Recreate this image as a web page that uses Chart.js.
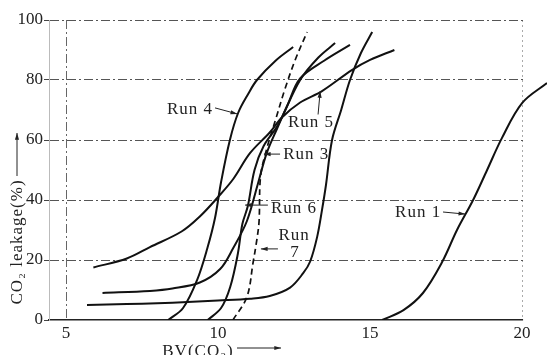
<!DOCTYPE html>
<html>
<head>
<meta charset="utf-8">
<script src="https://cdn.jsdelivr.net/npm/chart.js@4"></script>
<style>
  html, body { margin: 0; padding: 0; background: #fff; }
</style>
</head>
<body>
<canvas id="chart" width="547" height="355"></canvas>
<script>
// DATA
const xTicks = [5, 10, 15, 20];
const yTicks = [0, 20, 40, 60, 80, 100];

const run1X = [15.4, 16.1, 16.74, 17.37, 17.86, 18.39, 18.85, 19.34, 20, 20.82];
const run1Y = [0, 3.3, 9, 19.3, 30, 40, 50, 60.7, 72.3, 79];

const run2X = [5.69, 7, 8, 9, 10, 11.05, 11.7, 12.37, 12.8, 13.03, 13.26, 13.42, 13.55, 13.75, 14.05, 14.34, 14.7, 15.07];
const run2Y = [5, 5.3, 5.6, 6, 6.5, 7.1, 8, 10.8, 15.6, 19.5, 27.7, 36.7, 45, 60, 70, 80, 89, 96];

const run3X = [6.2, 7.76, 8.5, 9.4, 10.07, 10.5, 10.95, 11.3, 11.6, 11.95, 12.3, 12.7, 13.5, 14.34];
const run3Y = [9, 9.7, 10.5, 12.5, 17, 24, 33, 45, 55.6, 64, 72, 80.5, 86.5, 91.7];

const run4X = [8.36, 8.85, 9.31, 9.65, 9.9, 10.1, 10.39, 10.66, 11.0, 11.28, 11.9, 12.47];
const run4Y = [0, 4, 13.3, 24, 34, 46, 60, 69, 75.5, 80, 86.5, 91];

const run5X = [5.9, 7, 7.76, 8.8, 9.4, 10, 10.5, 11.05, 11.7, 12.1, 12.7, 13.42, 14.4, 15, 15.8];
const run5Y = [17.5, 20.5, 24.3, 29.5, 34.5, 41, 47, 55.6, 62.5, 67.5, 72.5, 76.3, 83.3, 86.7, 90];

const run6X = [9.66, 10.1, 10.4, 10.65, 10.8, 10.98, 11.2, 11.5, 11.97, 12.7, 13.3, 13.85];
const run6Y = [0, 4, 11, 22, 32, 38, 50, 58, 65, 80, 87.5, 92.3];

const run7X = [10.49, 10.95, 11.15, 11.28, 11.35, 11.4, 11.6, 11.9, 12.2, 12.55, 12.93];
const run7Y = [0, 7.7, 19, 27, 33, 48, 57, 67, 77, 87, 96];

const SERIF = "'Liberation Serif', 'DejaVu Serif', serif";
const FRAME_RIGHT = 20;   // frame stops at 20, Run 1 runs on past it

function pts(xs, ys) {
  return xs.map((x, i) => ({ x: x, y: ys[i] }));
}

function curve(xs, ys, dashed) {
  return {
    data: pts(xs, ys),
    borderColor: '#111',
    borderWidth: dashed ? 1.7 : 2,
    borderDash: dashed ? [6, 4] : [],
    pointRadius: 0,
    tension: 0.35
  };
}

// run labels, in data units: text centre, arrow from -> to
const notes = [
  { text: 'Run 4', at: [9.08, 70],   from: [9.9, 70.7],   to: [10.63, 68.7] },
  { text: 'Run 5', at: [13.06, 65.7], from: [13.29, 68.5], to: [13.36, 76.3] },
  { text: 'Run 3', at: [12.9, 55.3], from: [12.04, 55.3], to: [11.51, 55.3] },
  { text: 'Run 6', at: [12.5, 37],   from: [11.64, 38.3], to: [10.89, 38.3] },
  { text: 'Run',   at: [12.5, 28],   from: [11.97, 23.7], to: [11.41, 23.7] },
  { text: '7',     at: [12.53, 22.4] },
  { text: 'Run 1', at: [16.58, 35.7], from: [17.4, 36],   to: [18.13, 35.3] }
];

function arrow(ctx, x1, y1, x2, y2) {
  const a = Math.atan2(y2 - y1, x2 - x1);
  ctx.beginPath();
  ctx.moveTo(x1, y1);
  ctx.lineTo(x2, y2);
  ctx.stroke();
  ctx.beginPath();
  ctx.moveTo(x2, y2);
  ctx.lineTo(x2 - 7 * Math.cos(a - 0.3), y2 - 7 * Math.sin(a - 0.3));
  ctx.lineTo(x2 - 7 * Math.cos(a + 0.3), y2 - 7 * Math.sin(a + 0.3));
  ctx.closePath();
  ctx.fill();
}

// blank the grid beyond the frame so only the Run 1 curve shows there
const frameMask = {
  id: 'frameMask',
  beforeDatasetsDraw(chart) {
    const ctx = chart.ctx;
    const px = chart.scales.x.getPixelForValue(FRAME_RIGHT);
    ctx.save();
    ctx.fillStyle = '#fff';
    ctx.fillRect(px + 1, 0, chart.width - px, chart.chartArea.bottom + 2);
    ctx.restore();
  }
};

const labelsPlugin = {
  id: 'labels',
  afterDraw(chart) {
    const ctx = chart.ctx;
    const sx = chart.scales.x, sy = chart.scales.y;
    ctx.save();
    ctx.fillStyle = '#222';
    ctx.strokeStyle = '#222';
    ctx.lineWidth = 1;
    ctx.font = '17px ' + SERIF;
    ctx.letterSpacing = '1px';
    ctx.textAlign = 'center';
    ctx.textBaseline = 'middle';
    notes.forEach(n => {
      ctx.fillText(n.text, sx.getPixelForValue(n.at[0]), sy.getPixelForValue(n.at[1]));
      if (n.from) {
        arrow(ctx, sx.getPixelForValue(n.from[0]), sy.getPixelForValue(n.from[1]),
                   sx.getPixelForValue(n.to[0]), sy.getPixelForValue(n.to[1]));
      }
    });

    // y title (rotated) + arrow
    ctx.save();
    ctx.translate(18, 242);
    ctx.rotate(-Math.PI / 2);
    ctx.fillText('CO₂ leakage(%)', 0, 0);
    ctx.restore();
    arrow(ctx, 17, 176, 17, 133);

    // x title + arrow
    ctx.textBaseline = 'alphabetic';
    ctx.fillText('BV(CO₂)', 198, 356);
    arrow(ctx, 237, 348, 281, 348);
    ctx.restore();
  }
};

new Chart(document.getElementById('chart'), {
  type: 'line',
  data: {
    datasets: [
      curve(run1X, run1Y),
      curve(run2X, run2Y),
      curve(run3X, run3Y),
      curve(run4X, run4Y),
      curve(run5X, run5Y),
      curve(run6X, run6Y),
      curve(run7X, run7Y, true)
    ]
  },
  options: {
    responsive: false,
    animation: false,
    layout: { padding: { top: 20, right: 0, left: 0, bottom: 0 } },
    plugins: { legend: { display: false }, tooltip: { enabled: false } },
    scales: {
      x: {
        type: 'linear',
        min: 4.44,
        max: 20.82,
        afterBuildTicks: s => { s.ticks = xTicks.map(v => ({ value: v })); },
        afterFit: s => { s.height = 35; },
        grid: {
          color: c => c.tick && c.tick.value === 5 ? '#666' : (c.tick && c.tick.value === 20 ? '#aaa' : 'rgba(0,0,0,0)'),
          drawTicks: false
        },
        border: { display: true, color: '#222', width: 1.5, dash: c => c.tick && c.tick.value === 20 ? [2, 3] : [9, 3, 2, 3] },
        ticks: { font: { family: SERIF, size: 17 }, color: '#222', padding: 3, maxRotation: 0 }
      },
      y: {
        min: 0,
        max: 100,
        afterBuildTicks: s => { s.ticks = yTicks.map(v => ({ value: v })); },
        afterFit: s => { s.width = 49; },
        grid: {
          color: c => c.tick && c.tick.value === 0 ? 'rgba(0,0,0,0)' : '#555',
          tickColor: '#444',
          tickLength: 5
        },
        border: { display: true, color: '#bbb', width: 1, dash: [9, 3, 2, 3] },
        ticks: { font: { family: SERIF, size: 17 }, color: '#222', padding: 1 }
      }
    }
  },
  plugins: [frameMask, labelsPlugin]
});
</script>
</body>
</html>
